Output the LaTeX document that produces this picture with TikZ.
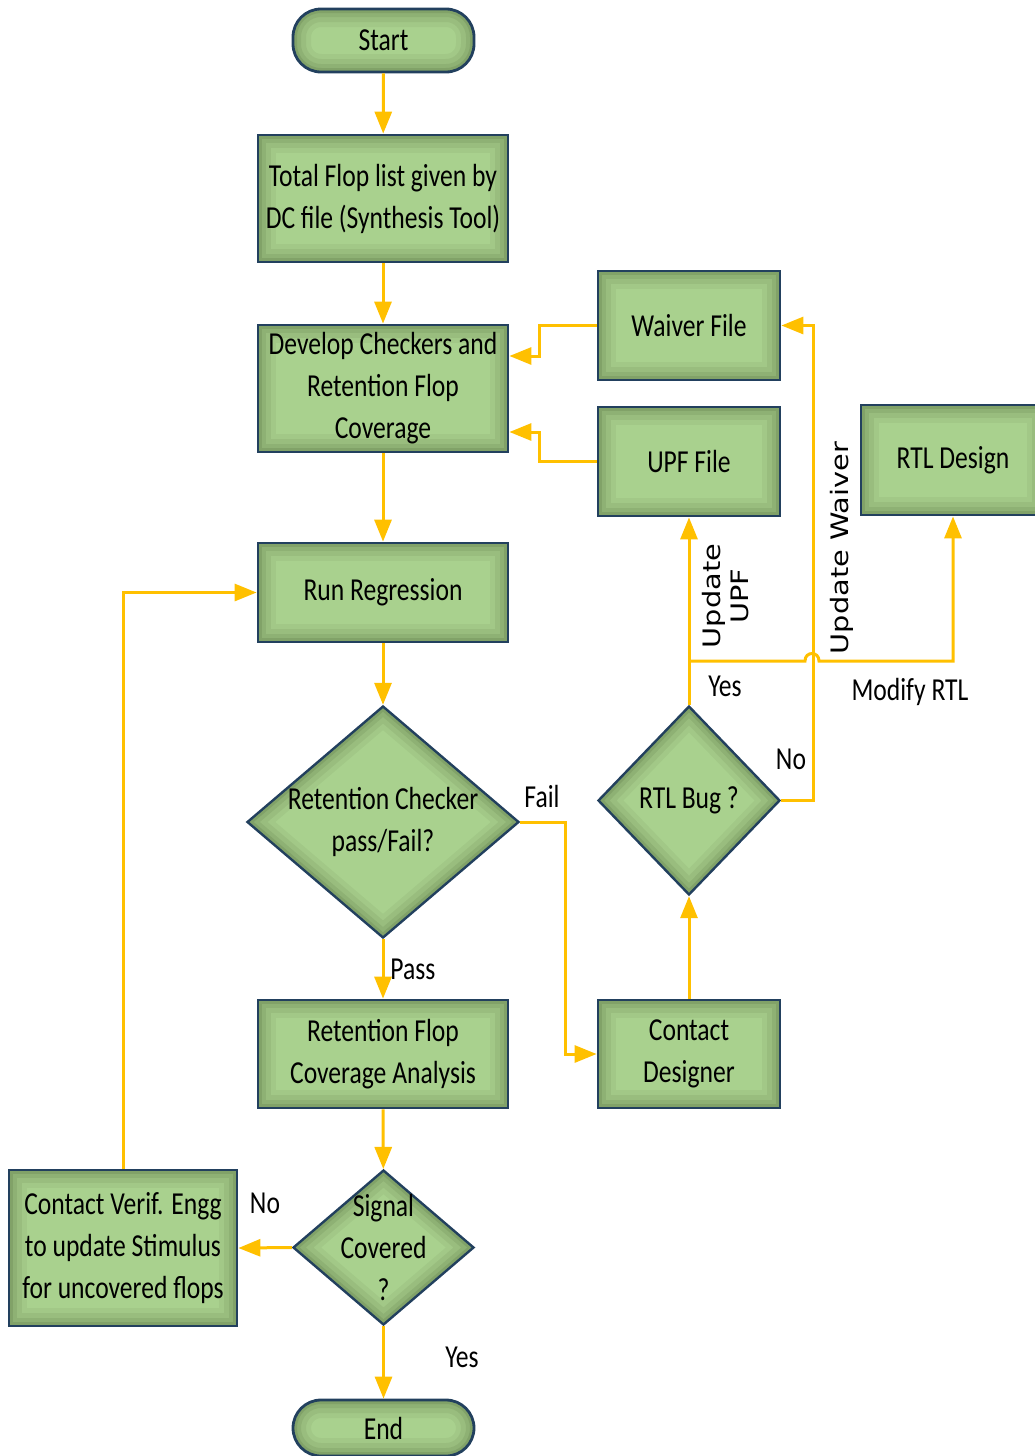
\documentclass[tikz,border=0pt]{standalone}
\usepackage{fontspec}
\setmainfont{Carlito}[FakeStretch=0.8]
\newfontfamily\vfont{DejaVu Sans}[FakeStretch=1.2]
\usetikzlibrary{shapes.geometric,arrows.meta,calc}

\definecolor{boxfill}{HTML}{A9D18E}
\definecolor{boxline}{HTML}{22405E}
\definecolor{shadowc}{HTML}{33481F}
\definecolor{arrowc}{HTML}{FFC000}

\tikzset{
  rimrect/.style={path picture={
    \foreach \w/\o in {18/0.06,13/0.08,8/0.10,4/0.14}{
      \draw[line width=\w pt,draw=shadowc,opacity=\o]
        (path picture bounding box.south west) rectangle (path picture bounding box.north east);}}},
  rimround/.style={path picture={
    \foreach \w/\o in {18/0.06,13/0.08,8/0.10,4/0.14}{
      \draw[line width=\w pt,draw=shadowc,opacity=\o,rounded corners=14pt]
        (path picture bounding box.south west) rectangle (path picture bounding box.north east);}}},
  rimdiamond/.style={path picture={
    \foreach \w/\o in {18/0.06,13/0.08,8/0.10,4/0.14}{
      \draw[line width=\w pt,draw=shadowc,opacity=\o,line join=miter]
        (path picture bounding box.north) -- (path picture bounding box.east) --
        (path picture bounding box.south) -- (path picture bounding box.west) -- cycle;}}},
  stepbox/.style={rectangle, fill=boxfill, draw=boxline, line width=1.4pt,
    inner sep=0pt, align=center, rimrect},
  term/.style={rectangle, rounded corners=14pt, fill=boxfill, draw=boxline,
    line width=1.4pt, inner sep=0pt, align=center, rimround},
  decision/.style={diamond, fill=boxfill, draw=boxline, line width=1.2pt,
    inner sep=0pt, rimdiamond},
  flow/.style={draw=arrowc, line width=1.5pt,
    -{Triangle[width=8.5pt,length=11pt]}},
  lbl/.style={inner sep=0pt},
  vlbl/.style={inner sep=0pt, rotate=90, align=center,
    font=\vfont\fontsize{12}{14}\selectfont},
}

\begin{document}
\begin{tikzpicture}[x=0.5pt,y=-0.5pt,font=\fontsize{16}{21}\selectfont]
\useasboundingbox (0,0) rectangle (1034,1456);

% main column
\node[term, minimum width=90.5pt, minimum height=31.5pt] (start) at (383.5,40.5) {Start};
\node[stepbox, minimum width=125pt, minimum height=63.5pt] (total) at (383,198.5)
  {Total Flop list given by\\DC file (Synthesis Tool)};
\node[stepbox, minimum width=125pt, minimum height=63.5pt] (dev) at (383,388.5)
  {Develop Checkers and\\Retention Flop\\Coverage};
\node[stepbox, minimum width=125pt, minimum height=49.5pt] (run) at (383,592.5) {Run Regression};
\node[decision, minimum width=136pt, minimum height=116pt,
  label={[align=center]center:Retention Checker\\pass/Fail?}] (chk) at (383,822) {};
\node[stepbox, minimum width=125pt, minimum height=54pt] (cov) at (383,1054)
  {Retention Flop\\Coverage Analysis};
\node[decision, minimum width=90.5pt, minimum height=77.5pt,
  label={[align=center]center:Signal\\Covered\\?}] (sig) at (383.5,1247.5) {};
\node[term, minimum width=90.5pt, minimum height=28pt] (end) at (383.5,1428) {End};

% left branch
\node[stepbox, minimum width=114pt, minimum height=78pt] (verif) at (123,1248)
  {Contact Verif. Engg\\to update Stimulus\\for uncovered flops};

% right side
\node[stepbox, minimum width=91pt, minimum height=54.5pt] (waiver) at (689,325.5) {Waiver File};
\node[stepbox, minimum width=91pt, minimum height=54.5pt] (upf) at (689,461.5) {UPF File};
\node[stepbox, minimum width=92pt, minimum height=55pt] (rtl) at (953,460) {RTL Design};
\node[decision, minimum width=91pt, minimum height=94.5pt,
  label={center:RTL Bug ?}] (bug) at (689,800.5) {};
\node[stepbox, minimum width=91pt, minimum height=54pt] (cdes) at (689,1054) {Contact\\Designer};

% connectors of the main column
\draw[flow] (start) -- (total);
\draw[flow] (total) -- (dev);
\draw[flow] (dev) -- (run);
\draw[flow] (run) -- (chk);
\draw[flow] (chk) -- (cov);
\draw[flow] (cov) -- (sig);
\draw[flow] (sig) -- (end);
\draw[flow] (sig.west) -- (verif.east);
\draw[flow] (verif.north) |- (run.west);

% fail path and designer loop
\draw[flow] (chk.east) -- ++(45,0) |- (cdes.west);
\draw[flow] (cdes) -- (bug);
\draw[flow] (bug) -- (upf);
\coordinate (split) at (689,661);
\coordinate (hopL) at (805,661);
\coordinate (hopR) at (819,661);
\draw[flow] (split) -- (hopL) .. controls +(0,-10) and +(0,-10) .. (hopR)
  -- (split -| rtl.south) -- (rtl.south);
\draw[flow] (bug.east) -- ++(32,0) |- (waiver.east);

% inputs to the checker development
\draw[flow] (waiver.west) -- ++(-57,0) |- ($(dev.east)+(0,-32.5)$);
\draw[flow] (upf.west) -- ++(-57,0) |- ($(dev.east)+(0,43.5)$);

% connector labels
\node[lbl, anchor=west] (pass) at (390,969) {Pass};
\node[lbl] (fail) at (542,796) {Fail};
\node[lbl] (yes1) at (725,686) {Yes};
\node[lbl] (no1) at (791,759) {No};
\node[lbl] (modify) at (910,692) {Modify RTL};
\node[lbl] (no2) at (265,1203) {No};
\node[lbl] (yes2) at (462,1357) {Yes};
\node[vlbl] (updupf) at (726,596) {Update\\UPF};
\node[vlbl] (updwaiver) at (842,548) {Update Waiver};
\end{tikzpicture}
\end{document}
